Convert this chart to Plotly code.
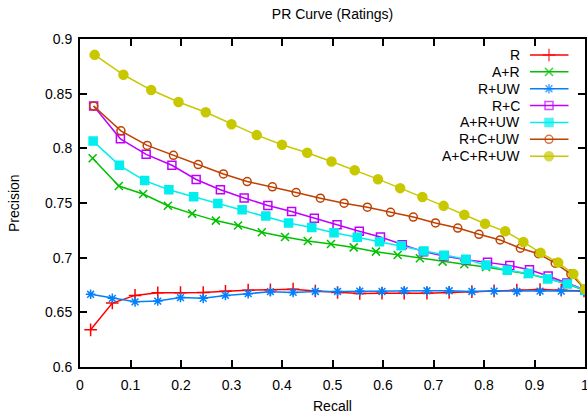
import plotly.graph_objects as go

# ---------------- data ----------------
series_names = ["R", "A+R", "R+UW", "R+C", "A+R+UW", "R+C+UW", "A+C+R+UW"]

recall_R = [0.021, 0.064, 0.109, 0.154, 0.199, 0.244, 0.288, 0.333, 0.377, 0.422, 0.466, 0.510,
            0.554, 0.598, 0.642, 0.687, 0.731, 0.776, 0.820, 0.865, 0.911, 0.953, 0.998]
prec_R = [0.634, 0.6585, 0.6655, 0.6678, 0.668, 0.6682, 0.6692, 0.6703, 0.6706, 0.6712, 0.6695, 0.6682,
          0.6673, 0.6675, 0.6675, 0.6675, 0.6682, 0.6689, 0.6696, 0.6703, 0.6709, 0.6703, 0.6696]

recall_AR = [0.025, 0.077, 0.125, 0.174, 0.222, 0.269, 0.313, 0.360, 0.406, 0.451, 0.497, 0.542,
             0.586, 0.629, 0.673, 0.718, 0.761, 0.804, 0.846, 0.887, 0.927, 0.964, 1.0]
prec_AR = [0.7909, 0.7655, 0.7582, 0.7475, 0.7403, 0.7339, 0.7294, 0.7233, 0.7189, 0.7153, 0.7125, 0.7094,
           0.7055, 0.7025, 0.6994, 0.6964, 0.6939, 0.6915, 0.6885, 0.685, 0.681, 0.676, 0.670]

recall_RUW = [0.021, 0.064, 0.109, 0.154, 0.199, 0.244, 0.288, 0.333, 0.377, 0.422, 0.466, 0.510,
              0.554, 0.598, 0.642, 0.687, 0.731, 0.776, 0.820, 0.865, 0.911, 0.953, 0.998]
prec_RUW = [0.6665, 0.6628, 0.6596, 0.6603, 0.6635, 0.6628, 0.6655, 0.6671, 0.6689, 0.6682, 0.6691, 0.6691,
            0.6694, 0.6691, 0.6697, 0.6697, 0.6697, 0.6691, 0.6694, 0.6691, 0.6694, 0.6694, 0.6694]

recall_RC = [0.027, 0.080, 0.131, 0.182, 0.230, 0.278, 0.325, 0.372, 0.419, 0.464, 0.509, 0.553,
             0.595, 0.638, 0.680, 0.721, 0.764, 0.807, 0.851, 0.890, 0.927, 0.964, 1.0]
prec_RC = [0.8387, 0.8087, 0.7945, 0.7845, 0.7715, 0.7621, 0.7545, 0.7478, 0.7423, 0.7361, 0.730, 0.7242,
           0.7189, 0.7119, 0.7055, 0.7015, 0.698, 0.6957, 0.6928, 0.6889, 0.6833, 0.6768, 0.6707]

recall_ARUW = [0.026, 0.078, 0.128, 0.176, 0.225, 0.273, 0.321, 0.368, 0.413, 0.459, 0.503, 0.549,
               0.593, 0.636, 0.681, 0.721, 0.764, 0.804, 0.846, 0.888, 0.926, 0.965, 1.0]
prec_ARUW = [0.8066, 0.7845, 0.7705, 0.7621, 0.7557, 0.7496, 0.7439, 0.7382, 0.7318, 0.7275, 0.7227, 0.7187,
             0.7145, 0.7109, 0.706, 0.7021, 0.6985, 0.6932, 0.6885, 0.6856, 0.6806, 0.676, 0.6703]

recall_RCUW = [0.027, 0.081, 0.133, 0.185, 0.234, 0.284, 0.331, 0.381, 0.428, 0.476, 0.523, 0.569,
               0.615, 0.660, 0.704, 0.748, 0.790, 0.832, 0.872, 0.908, 0.941, 0.972, 1.0]
prec_RCUW = [0.8387, 0.816, 0.8027, 0.7936, 0.7851, 0.7766, 0.7696, 0.7648, 0.7596, 0.7544, 0.7498, 0.7462,
             0.7415, 0.7371, 0.7318, 0.7271, 0.7214, 0.7162, 0.7086, 0.7036, 0.695, 0.685, 0.6712]

recall_ACRUW = [0.029, 0.086, 0.141, 0.195, 0.249, 0.300, 0.350, 0.400, 0.450, 0.498, 0.544, 0.590,
                0.634, 0.678, 0.720, 0.761, 0.802, 0.842, 0.878, 0.912, 0.947, 0.977, 1.0]
prec_ACRUW = [0.8855, 0.8673, 0.8533, 0.8424, 0.833, 0.8221, 0.8121, 0.8033, 0.796, 0.788, 0.780, 0.7718,
              0.7636, 0.7555, 0.7474, 0.7392, 0.731, 0.7241, 0.7144, 0.7044, 0.6955, 0.685, 0.6712]

recalls = [recall_R, recall_AR, recall_RUW, recall_RC, recall_ARUW, recall_RCUW, recall_ACRUW]
precisions = [prec_R, prec_AR, prec_RUW, prec_RC, prec_ARUW, prec_RCUW, prec_ACRUW]

x_ticks = [0, 0.1, 0.2, 0.3, 0.4, 0.5, 0.6, 0.7, 0.8, 0.9, 1]
y_ticks = [0.6, 0.65, 0.7, 0.75, 0.8, 0.85, 0.9]

# ---------------- style ----------------
colors = ["#ff0000", "#00c000", "#0080ff", "#c000ff", "#00eeee", "#c04000", "#c8c800"]
symbols = ["cross-thin-open", "x-thin-open", "asterisk-open", "square-open", "square", "circle-open", "circle"]
msizes = [9, 8, 8, 8, 8, 8, 9]
FONT = "Liberation Sans, Arial, sans-serif"

W, H = 587, 414
L, R = 80, 585
T, B = 38.5, 367


def px_x(px):
    return (px - L) / (R - L)


def px_y(py):
    return 1 - (py - T) / (B - T)


fig = go.Figure()
for name, xs, ys, c, sym, ms in zip(series_names, recalls, precisions, colors, symbols, msizes):
    fig.add_trace(go.Scatter(
        x=xs, y=ys, mode="lines+markers", name=name, showlegend=False,
        line=dict(color=c, width=1.5),
        marker=dict(symbol=sym, size=ms, color=c, line=dict(color=c, width=1.5)),
        cliponaxis=False,
    ))

# gnuplot-style key (text right, sample line with marker at right)
row0, drow = 54.5, 16.9
for i, (name, c, sym, ms) in enumerate(zip(series_names, colors, symbols, msizes)):
    yy = px_y(row0 + i * drow)
    fig.add_trace(go.Scatter(
        x=[px_x(530), px_x(549), px_x(568.5)], y=[yy, yy, yy], xaxis="x2", yaxis="y2",
        mode="lines+markers", showlegend=False, hoverinfo="skip",
        line=dict(color=c, width=1.5),
        marker=dict(symbol=sym, size=[0, ms, 0], color=c, line=dict(color=c, width=1.5)),
        cliponaxis=False,
    ))
    fig.add_annotation(x=px_x(522), y=yy, xref="paper", yref="paper", text=name,
                       showarrow=False, xanchor="right", yanchor="middle",
                       font=dict(family=FONT, size=14, color="black"))

# axis titles
fig.add_annotation(x=0.5, y=px_y(406), xref="paper", yref="paper", text="Recall",
                   showarrow=False, xanchor="center", yanchor="middle",
                   font=dict(family=FONT, size=14, color="black"))
fig.add_annotation(x=px_x(14), y=0.5, xref="paper", yref="paper", text="Precision",
                   showarrow=False, xanchor="center", yanchor="middle", textangle=-90,
                   font=dict(family=FONT, size=14, color="black"))

fig.update_layout(
    width=W, height=H,
    margin=dict(l=L, r=W - R, t=T, b=H - B),
    paper_bgcolor="white", plot_bgcolor="white",
    font=dict(family=FONT, size=14, color="black"),
    title=dict(text="PR Curve (Ratings)", x=0.5, xref="paper", y=1 - 14 / H, yref="container",
               xanchor="center", yanchor="middle", font=dict(family=FONT, size=14, color="black")),
    xaxis=dict(range=[0, 1], tickvals=x_ticks, ticktext=[str(v) for v in x_ticks],
               ticks="inside", ticklen=7, tickwidth=1.5, tickcolor="black",
               showline=True, linecolor="black", linewidth=2, mirror="ticks",
               showgrid=False, zeroline=False, automargin=False, ticklabelstandoff=4,
               ticklabeloverflow="allow"),
    yaxis=dict(range=[0.6, 0.9], tickvals=y_ticks, ticktext=[f"{v:g}" for v in y_ticks],
               ticks="inside", ticklen=7, tickwidth=1.5, tickcolor="black",
               showline=True, linecolor="black", linewidth=2, mirror="ticks",
               showgrid=False, zeroline=False, automargin=False, ticklabelstandoff=3,
               ticklabeloverflow="allow"),
    xaxis2=dict(range=[0, 1], overlaying="x", visible=False, anchor="y2"),
    yaxis2=dict(range=[0, 1], overlaying="y", visible=False, anchor="x2"),
)

fig.write_html(
    "out.html",
    config={"displayModeBar": False},
    post_script="document.body.style.margin='0';document.body.style.overflow='hidden';",
)
